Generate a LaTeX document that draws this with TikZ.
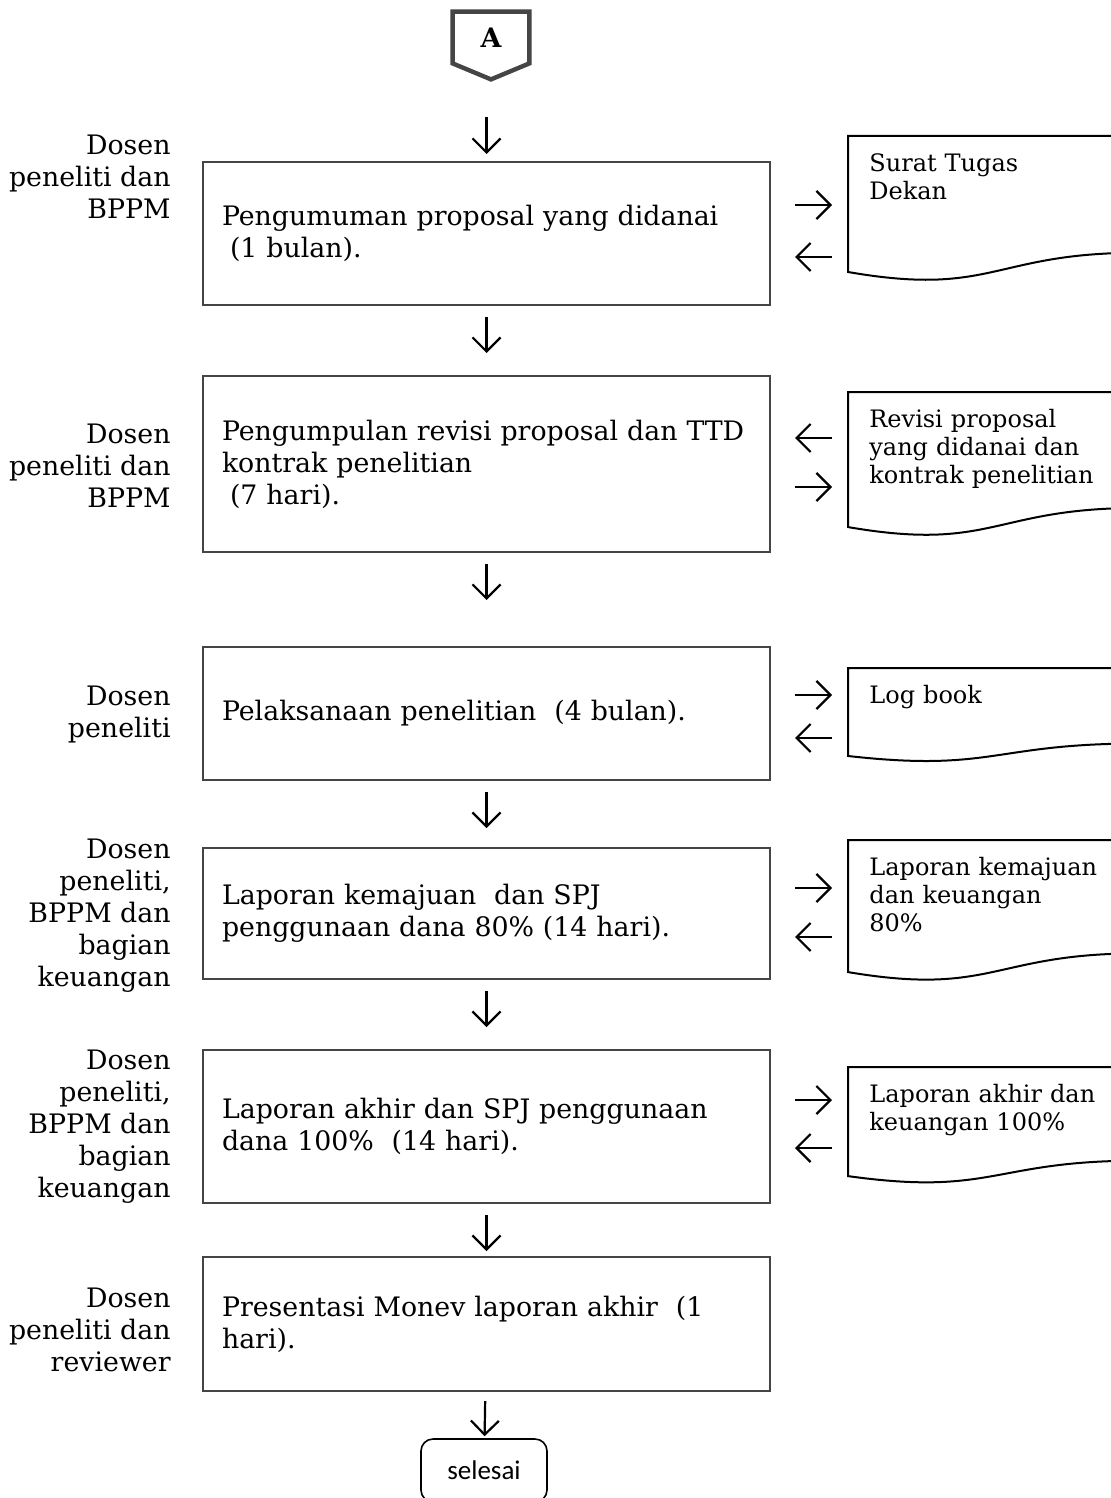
\documentclass[tikz,border=0pt]{standalone}
\usepackage{xcolor}
\usepackage{fontspec}
\setmainfont{DejaVu Serif}
\newfontfamily\endfont{Carlito}
\usepackage{tikz}
\usetikzlibrary{arrows.meta, positioning, calc}

\definecolor{boxgray}{HTML}{454545}

% document frame around a doc node: #1 node, #2 full height (pt)
\newcommand{\docframe}[2]{%
  \draw[docline] (#1.north west) -- ++(145pt,0pt) -- ++(0pt,{-0.802*#2pt})
    .. controls ([shift={(72.5pt,{-0.802*#2pt})}]#1.north west)
    and ([shift={(72.5pt,{-1.1075*#2pt})}]#1.north west)
    .. ([shift={(0pt,{-0.934*#2pt})}]#1.north west) -- cycle;}

\begin{document}
\begin{tikzpicture}[x=0.5pt, y=-0.5pt, every node/.style={font=\fontsize{13.4}{16}\selectfont}]
    % Styles
    \tikzstyle{process} = [rectangle, draw=boxgray, line width=1pt, minimum width=283.5pt, text width=264.5pt, inner xsep=9.5pt, align=left]
    \tikzstyle{who} = [align=right, inner sep=0pt]
    \tikzstyle{doc} = [anchor=north west, inner xsep=10.5pt, inner ysep=8.5pt, text width=125pt, align=left, font=\fontsize{12}{14}\selectfont]
    \tikzstyle{docline} = [draw=black, line width=1pt]
    \tikzstyle{flow} = [-{Straight Barb[length=7pt, width=14pt]}, line width=1.1pt, black]
    \tikzstyle{offpage} = [minimum width=38pt, minimum height=25.5pt, inner sep=0pt, font=\fontsize{13.4}{16}\selectfont\bfseries]
    \tikzstyle{terminal} = [rectangle, rounded corners=6pt, draw=black, line width=0.8pt, minimum width=63pt, minimum height=31.5pt, font=\endfont\fontsize{13.5}{16}\selectfont]

    \path[use as bounding box, fill=white] (0,0) rectangle (1111,1498);

    % Nodes
    \node[offpage] (A) at (491,37.5) {A};
    \draw[boxgray, line width=2.2pt] (A.north west) -- (A.north east) -- (A.south east)
        -- ([yshift=-8pt]A.south) -- (A.south west) -- cycle;

    \node[process, minimum height=71.5pt] (b1) at (486.5,233.5) {Pengumuman proposal yang didanai\\\hspace{0.3em}(1 bulan).};
    \node[process, minimum height=88pt] (b2) at (486.5,464) {Pengumpulan revisi proposal dan TTD\\kontrak penelitian\\\hspace{0.3em}(7 hari).};
    \node[process, minimum height=66.5pt] (b3) at (486.5,713.5) {Pelaksanaan penelitian\ \ (4 bulan).};
    \node[process, minimum height=65.5pt] (b4) at (486.5,913.5) {Laporan kemajuan\ \ dan SPJ\\penggunaan dana 80\% (14 hari).};
    \node[process, minimum height=76.5pt] (b5) at (486.5,1126.5) {Laporan akhir dan SPJ penggunaan\\dana 100\%\ \ (14 hari).};
    \node[process, minimum height=67pt] (b6) at (486.5,1324) {Presentasi Monev laporan akhir\ \ (1\\hari).};
    \node[terminal] (end) at (484,1470.5) {selesai};

    \node[who, left=15.5pt of b1, yshift=28.25pt] (w1) {Dosen\\peneliti dan\\BPPM};
    \node[who, left=15.5pt of b2, yshift=-1pt] (w2) {Dosen\\peneliti dan\\BPPM};
    \node[who, left=15.5pt of b3, yshift=-0.75pt] (w3) {Dosen\\peneliti};
    \node[who, left=15.5pt of b4, yshift=-1.25pt] (w4) {Dosen\\peneliti,\\BPPM dan\\bagian\\keuangan};
    \node[who, left=15.5pt of b5] (w5) {Dosen\\peneliti,\\BPPM dan\\bagian\\keuangan};
    \node[who, left=15.5pt of b6, yshift=-3pt] (w6) {Dosen\\peneliti dan\\reviewer};

    \node[doc] (d1) at (848,136) {Surat Tugas\\Dekan};
    \node[doc] (d2) at (848,392) {Revisi proposal\\yang didanai dan\\kontrak penelitian};
    \node[doc] (d3) at (848,668) {Log book};
    \node[doc] (d4) at (848,840) {Laporan kemajuan\\dan keuangan\\80\%};
    \node[doc] (d5) at (848,1067) {Laporan akhir dan\\keuangan 100\%};
    \docframe{d1}{72.8}
    \docframe{d2}{72.3}
    \docframe{d3}{47.1}
    \docframe{d4}{70.7}
    \docframe{d5}{58.4}

    % Connections
    \draw[flow, shorten <=27pt, shorten >=3.5pt] (A.south -| b1.north) -- (b1.north);
    \draw[flow, shorten <=5.5pt, shorten >=11pt] (b1) -- (b2);
    \draw[flow, shorten <=5.5pt, shorten >=23pt] (b2) -- (b3);
    \draw[flow, shorten <=5.5pt, shorten >=9.5pt] (b3) -- (b4);
    \draw[flow, shorten <=5.5pt, shorten >=11pt] (b4) -- (b5);
    \draw[flow, shorten <=5.5pt, shorten >=2.5pt] (b5) -- (b6);
    \draw[flow, shorten <=4.5pt, shorten >=1pt] (b6) -- (end);

    \draw[flow, shorten <=12pt, shorten >=8pt] ([yshift=14.25pt]b1.east) -- ([yshift=14.25pt]b1.east -| d1.west);
    \draw[flow, shorten <=8pt, shorten >=12pt] ([yshift=-11.75pt]b1.east -| d1.west) -- ([yshift=-11.75pt]b1.east);
    \draw[flow, shorten <=8pt, shorten >=12pt] ([yshift=13pt]b2.east -| d2.west) -- ([yshift=13pt]b2.east);
    \draw[flow, shorten <=12pt, shorten >=8pt] ([yshift=-11.5pt]b2.east) -- ([yshift=-11.5pt]b2.east -| d2.west);
    \draw[flow, shorten <=12pt, shorten >=8pt] ([yshift=9.25pt]b3.east) -- ([yshift=9.25pt]b3.east -| d3.west);
    \draw[flow, shorten <=8pt, shorten >=12pt] ([yshift=-12.25pt]b3.east -| d3.west) -- ([yshift=-12.25pt]b3.east);
    \draw[flow, shorten <=12pt, shorten >=8pt] ([yshift=12.75pt]b4.east) -- ([yshift=12.75pt]b4.east -| d4.west);
    \draw[flow, shorten <=8pt, shorten >=12pt] ([yshift=-11.75pt]b4.east -| d4.west) -- ([yshift=-11.75pt]b4.east);
    \draw[flow, shorten <=12pt, shorten >=8pt] ([yshift=13.25pt]b5.east) -- ([yshift=13.25pt]b5.east -| d5.west);
    \draw[flow, shorten <=8pt, shorten >=12pt] ([yshift=-10.75pt]b5.east -| d5.west) -- ([yshift=-10.75pt]b5.east);
\end{tikzpicture}
\end{document}
